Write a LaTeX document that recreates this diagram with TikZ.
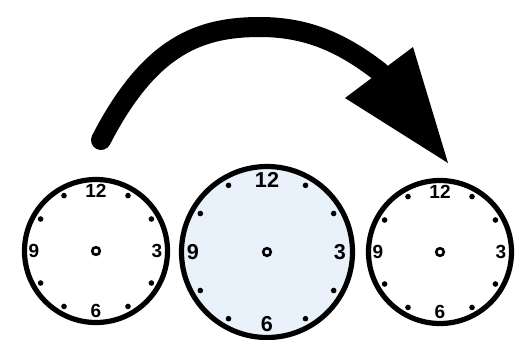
\documentclass[tikz,border=0pt]{standalone}
\usepackage{fontspec}
\setmainfont{Liberation Sans}
\definecolor{clockblue}{HTML}{E9F2FB}
\begin{document}
\begin{tikzpicture}[x=0.5pt,y=-0.5pt,
  rim/.style={draw=black,line width=2.6pt},
  tickdot/.style={circle,fill=black,inner sep=0pt,minimum size=2.8pt},
  hub/.style={circle,draw=black,line width=1.3pt,inner sep=0pt,minimum size=3.8pt},
  numlabel/.style={inner sep=0pt,font=\bfseries}]
\useasboundingbox (0,0) rectangle (519,339);
\fill[white] (0,0) rectangle (519,339);
% clocks
\foreach \cx/\cy/\r/\d/\nr/\fs/\col/\n in {96/251/71.5/64/60/9.5/white/a, 267/252/85.5/77/72/10.8/clockblue/b, 440/252/71.5/64/60/9.5/white/c}{
  \draw[rim,fill=\col] (\cx,\cy) circle (\r);
  \node[hub] (hub\n) at (\cx,\cy) {};
  \foreach \h in {1,2,4,5,7,8,10,11}{
    \node[tickdot] (t\n\h) at ({\cx+\d*sin(30*\h)},{\cy-\d*cos(30*\h)}) {};
  }
  \node[numlabel,font=\fontsize{\fs}{\fs}\selectfont\bfseries] (n\n12) at (\cx,{\cy-\nr}) {12};
  \node[numlabel,font=\fontsize{\fs}{\fs}\selectfont\bfseries] (n\n3) at ({\cx+\nr+1},\cy) {3};
  \node[numlabel,font=\fontsize{\fs}{\fs}\selectfont\bfseries] (n\n6) at (\cx,{\cy+\nr}) {6};
  \node[numlabel,font=\fontsize{\fs}{\fs}\selectfont\bfseries] (n\n9) at ({\cx-\nr-2},\cy) {9};
}
% arrow
\coordinate (tail) at (101,140);
\coordinate (base) at (380,72);
\draw[line width=10pt,line cap=round] (tail) .. controls (150,45) and (200,27) .. (260,27)
  .. controls (310,27) and (345,45) .. (base);
\fill[black] (345,98) -- (413,47) -- (448,163) -- cycle;
\end{tikzpicture}
\end{document}
